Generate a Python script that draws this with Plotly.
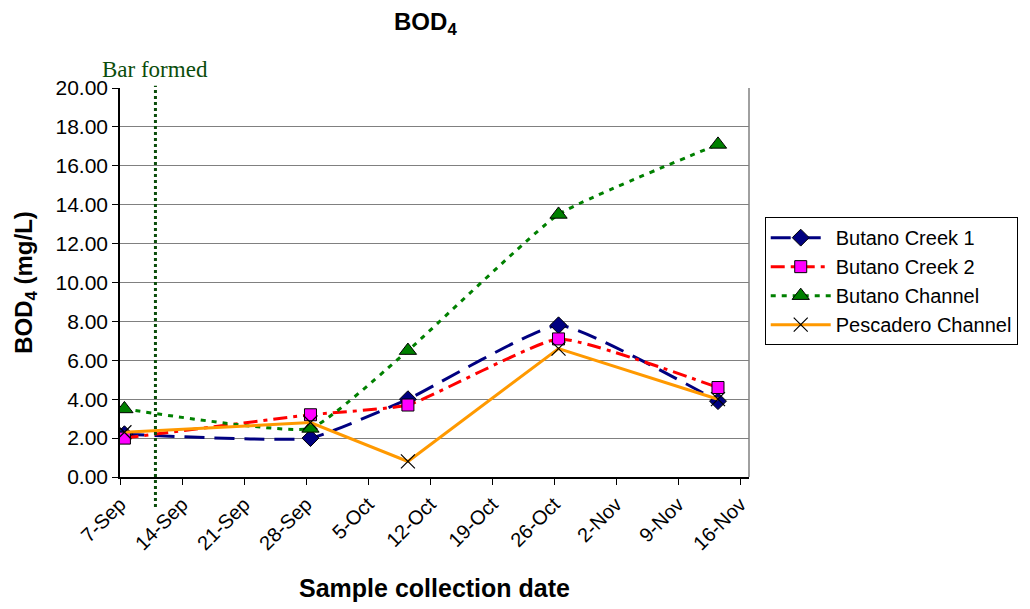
import pandas as pd
import plotly.graph_objects as go

# Sample collection dates and BOD4 readings (mg/L)
sample_dates = ["2007-09-07", "2007-09-28", "2007-10-09", "2007-10-26", "2007-11-13"]
butano_creek_1 = [2.2, 2.0, 4.0, 7.8, 3.9]
butano_creek_2 = [2.0, 3.2, 3.7, 7.1, 4.6]
butano_channel = [3.5, 2.5, 6.5, 13.5, 17.1]
pescadero_channel = [2.3, 2.8, 0.8, 6.6, 4.0]

bar_formed_date = "2007-09-11"
y_ticks = [0, 2, 4, 6, 8, 10, 12, 14, 16, 18, 20]

# points sit in the middle of their day on the date axis
x = pd.to_datetime(sample_dates) + pd.Timedelta(hours=12)

FONT = "Liberation Sans, Arial, sans-serif"

fig = go.Figure()

fig.add_trace(go.Scatter(
    x=x, y=butano_creek_1, name="Butano Creek 1", mode="lines+markers",
    line=dict(color="#000080", width=3, dash="20px,10px", shape="spline", smoothing=0.4),
    marker=dict(symbol="diamond", size=13, color="#000080", line=dict(color="black", width=1)),
))
fig.add_trace(go.Scatter(
    x=x, y=butano_creek_2, name="Butano Creek 2", mode="lines+markers",
    line=dict(color="#FF0000", width=3, dash="14px,6px,4px,6px", shape="spline", smoothing=0.4),
    marker=dict(symbol="square", size=12, color="#FF00FF", line=dict(color="black", width=1)),
))
fig.add_trace(go.Scatter(
    x=x, y=butano_channel, name="Butano Channel", mode="lines+markers",
    line=dict(color="#008000", width=3, dash="5px,6px", shape="spline", smoothing=0.4),
    marker=dict(symbol="triangle-up", size=15, color="#008000", line=dict(color="black", width=1)),
))
fig.add_trace(go.Scatter(
    x=x, y=pescadero_channel, name="Pescadero Channel", mode="lines+markers",
    line=dict(color="#FF9900", width=3),
    marker=dict(symbol="x-thin", size=14, color="black", line=dict(color="black", width=1.2)),
))

# dotted marker for the date the sand bar formed
fig.add_shape(
    type="line", xref="x", yref="paper",
    x0=bar_formed_date, x1=bar_formed_date, y0=-0.077, y1=1.006,
    line=dict(color="#0B4D0B", width=3, dash="dot"),
)
fig.add_annotation(
    text="Bar formed", xref="x", yref="paper", x=bar_formed_date, y=1.01,
    xanchor="center", yanchor="bottom", showarrow=False,
    font=dict(family="Liberation Serif, Times New Roman, serif", size=23, color="#0B4D0B"),
)

fig.update_layout(
    width=1030, height=609,
    margin=dict(l=120, r=278, t=88, b=132),
    paper_bgcolor="white", plot_bgcolor="white",
    font=dict(family=FONT, color="black"),
    title=dict(
        text="<b>BOD<sub>4</sub></b>", x=0.413, xanchor="center",
        y=0.965, yanchor="middle", font=dict(size=24, family=FONT, color="black"),
    ),
    xaxis=dict(
        type="date",
        range=["2007-09-07", "2007-11-17"],
        tick0="2007-09-07", dtick=7 * 24 * 3600 * 1000,
        tickformat="%-d-%b", tickangle=-45,
        ticks="outside", ticklen=6, tickcolor="black",
        showline=True, linecolor="black", linewidth=1.5,
        showgrid=False, zeroline=False,
        tickfont=dict(size=20, family=FONT),
        title=dict(text="<b>Sample collection date</b>", font=dict(size=25, family=FONT), standoff=26),
    ),
    yaxis=dict(
        range=[0, 20], tickvals=y_ticks,
        tickformat=".2f",
        ticks="outside", ticklen=6, tickcolor="black",
        showline=True, linecolor="black", linewidth=1.5,
        showgrid=True, gridcolor="#808080", gridwidth=1.2,
        zeroline=False,
        tickfont=dict(size=21, family=FONT),
        title=dict(text="<b>BOD<sub>4</sub> (mg/L)</b>", font=dict(size=24, family=FONT), standoff=16),
    ),
    legend=dict(
        x=1.025, y=0.668, xanchor="left", yanchor="top",
        bordercolor="black", borderwidth=1, bgcolor="white",
        font=dict(size=20, family=FONT),
        itemwidth=60, tracegroupgap=0,
    ),
    showlegend=True,
)

# right edge of the plot frame
fig.add_shape(
    type="line", xref="paper", yref="paper", x0=1, x1=1, y0=0, y1=1,
    line=dict(color="#808080", width=1.5),
)

fig.write_html("out.html")
